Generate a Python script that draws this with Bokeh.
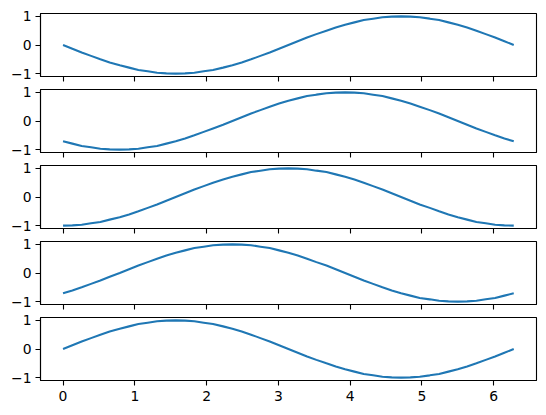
from bokeh.plotting import figure
from bokeh.layouts import column
from bokeh.models import Range1d, FixedTicker, CustomLabelingPolicy
from bokeh.embed import file_html
from bokeh.resources import INLINE

# sample positions (7.5 degree steps over 0..2*pi)
x_vals = [0, 0.13, 0.26, 0.39, 0.52, 0.65, 0.79, 0.92, 1.05, 1.18, 1.31, 1.44, 1.57,
          1.70, 1.83, 1.96, 2.09, 2.23, 2.36, 2.49, 2.62, 2.75, 2.88, 3.01, 3.14,
          3.27, 3.40, 3.53, 3.67, 3.80, 3.93, 4.06, 4.19, 4.32, 4.45, 4.58, 4.71,
          4.84, 4.97, 5.11, 5.24, 5.37, 5.50, 5.63, 5.76, 5.89, 6.02, 6.15, 6.28]

y_panel1 = [0, -0.13, -0.26, -0.38, -0.5, -0.61, -0.71, -0.79, -0.87, -0.92, -0.97, -0.99, -1,
            -0.99, -0.97, -0.92, -0.87, -0.79, -0.71, -0.61, -0.5, -0.38, -0.26, -0.13, 0,
            0.13, 0.26, 0.38, 0.5, 0.61, 0.71, 0.79, 0.87, 0.92, 0.97, 0.99, 1,
            0.99, 0.97, 0.92, 0.87, 0.79, 0.71, 0.61, 0.5, 0.38, 0.26, 0.13, 0]
y_panel2 = [-0.71, -0.79, -0.87, -0.92, -0.97, -0.99, -1,
            -0.99, -0.97, -0.92, -0.87, -0.79, -0.71, -0.61, -0.5, -0.38, -0.26, -0.13, 0,
            0.13, 0.26, 0.38, 0.5, 0.61, 0.71, 0.79, 0.87, 0.92, 0.97, 0.99, 1,
            0.99, 0.97, 0.92, 0.87, 0.79, 0.71, 0.61, 0.5, 0.38, 0.26, 0.13, 0,
            -0.13, -0.26, -0.38, -0.5, -0.61, -0.71]
y_panel3 = [-1, -0.99, -0.97, -0.92, -0.87, -0.79, -0.71, -0.61, -0.5, -0.38, -0.26, -0.13, 0,
            0.13, 0.26, 0.38, 0.5, 0.61, 0.71, 0.79, 0.87, 0.92, 0.97, 0.99, 1,
            0.99, 0.97, 0.92, 0.87, 0.79, 0.71, 0.61, 0.5, 0.38, 0.26, 0.13, 0,
            -0.13, -0.26, -0.38, -0.5, -0.61, -0.71, -0.79, -0.87, -0.92, -0.97, -0.99, -1]
y_panel4 = [-0.71, -0.61, -0.5, -0.38, -0.26, -0.13, 0,
            0.13, 0.26, 0.38, 0.5, 0.61, 0.71, 0.79, 0.87, 0.92, 0.97, 0.99, 1,
            0.99, 0.97, 0.92, 0.87, 0.79, 0.71, 0.61, 0.5, 0.38, 0.26, 0.13, 0,
            -0.13, -0.26, -0.38, -0.5, -0.61, -0.71, -0.79, -0.87, -0.92, -0.97, -0.99, -1,
            -0.99, -0.97, -0.92, -0.87, -0.79, -0.71]
y_panel5 = [0, 0.13, 0.26, 0.38, 0.5, 0.61, 0.71, 0.79, 0.87, 0.92, 0.97, 0.99, 1,
            0.99, 0.97, 0.92, 0.87, 0.79, 0.71, 0.61, 0.5, 0.38, 0.26, 0.13, 0,
            -0.13, -0.26, -0.38, -0.5, -0.61, -0.71, -0.79, -0.87, -0.92, -0.97, -0.99, -1,
            -0.99, -0.97, -0.92, -0.87, -0.79, -0.71, -0.61, -0.5, -0.38, -0.26, -0.13, 0]

panels = [y_panel1, y_panel2, y_panel3, y_panel4, y_panel5]
x_ticks = [0, 1, 2, 3, 4, 5, 6]
y_ticks = [-1, 0, 1]
y_tick_labels = {-1: "\u22121", 0: "0", 1: "1"}

FONT = "DejaVu Sans"
FSIZE = "13.9px"

hide_labels = CustomLabelingPolicy(code="""
    for (const i of Array.from(indices)) indices.unset(i)
    return indices
""")

figs = []
n = len(panels)
for i, ys in enumerate(panels):
    last = (i == n - 1)
    p = figure(frame_width=496, frame_height=63,
               x_range=Range1d(-0.314, 6.597), y_range=Range1d(-1.1, 1.1),
               output_backend="svg", toolbar_location=None,
               min_border_left=40, min_border_right=10,
               min_border_top=13 if i == 0 else 6,
               min_border_bottom=30 if last else 7)
    p.line(x_vals, ys, line_color="#1f77b4", line_width=2.08)
    p.grid.visible = False
    p.outline_line_color = "black"
    p.outline_line_width = 1.1
    p.background_fill_color = "white"
    p.border_fill_color = "white"
    for ax in (p.xaxis[0], p.yaxis[0]):
        ax.axis_line_color = "black"
        ax.axis_line_width = 1.1
        ax.major_tick_line_color = "black"
        ax.major_tick_line_width = 1.1
        ax.major_tick_in = 0
        ax.major_tick_out = 5
        ax.minor_tick_line_color = None
        ax.major_label_text_font = FONT
        ax.major_label_text_font_size = FSIZE
        ax.major_label_text_color = "black"
    p.xaxis.ticker = FixedTicker(ticks=x_ticks)
    p.yaxis.ticker = FixedTicker(ticks=y_ticks)
    p.yaxis.major_label_overrides = y_tick_labels
    p.yaxis.major_label_standoff = 4
    if last:
        p.xaxis.major_label_standoff = 5
    else:
        p.xaxis.major_label_policy = hide_labels
        p.xaxis.major_label_text_font_size = "0px"
        p.xaxis.major_label_standoff = 0
    figs.append(p)

layout = column(*figs, spacing=0)
open("out.html", "w").write(file_html(layout, INLINE))
